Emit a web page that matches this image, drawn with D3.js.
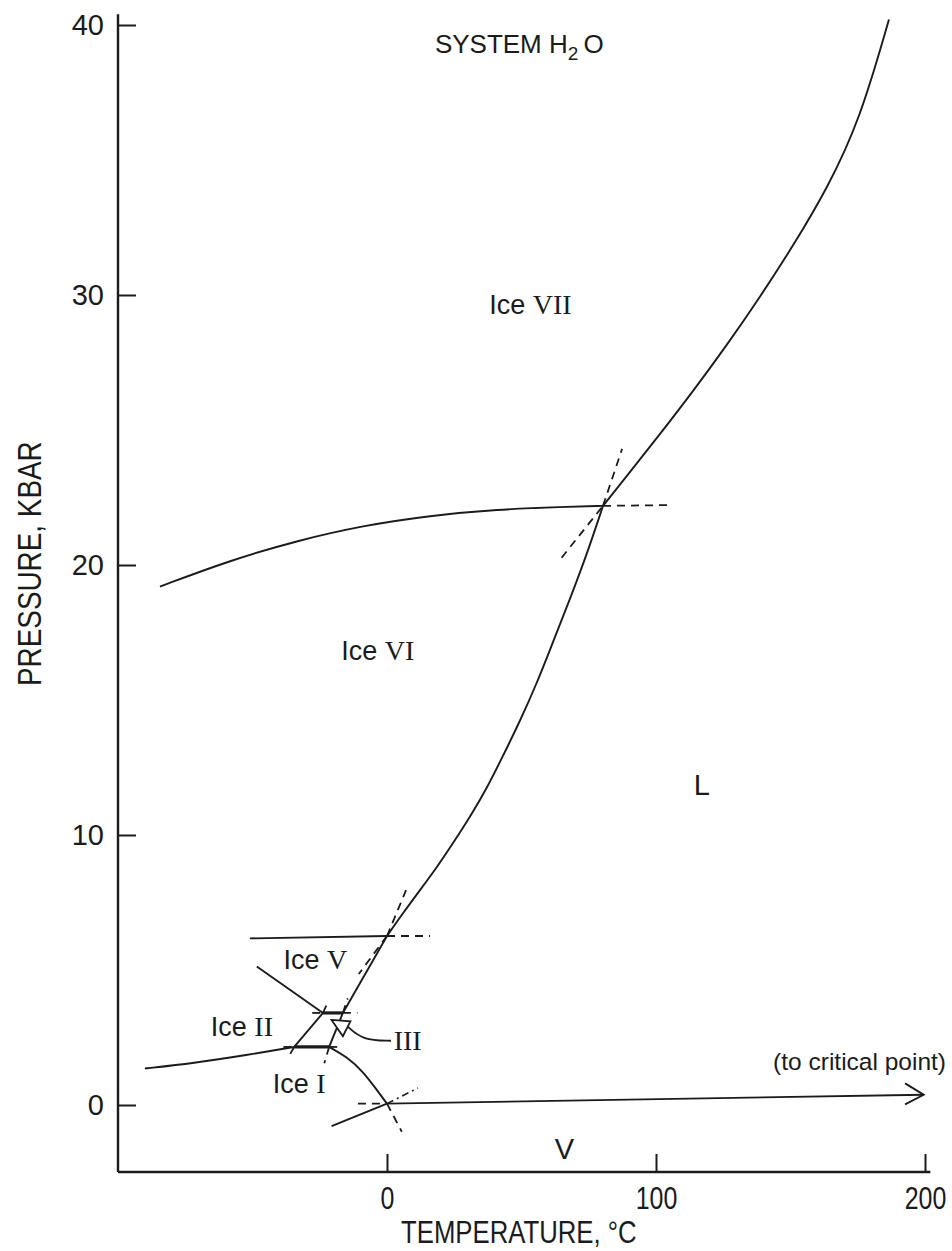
<!DOCTYPE html>
<html><head><meta charset="utf-8">
<script src="https://cdn.jsdelivr.net/npm/d3@7"></script>
<style>
body{margin:0;background:#fff;}
svg{display:block;}
.sans{font-family:"Liberation Sans",Arial,Helvetica,sans-serif;}
.serif{font-family:"Liberation Serif","Times New Roman",serif;}
</style>
</head><body>
<svg id="c" width="952" height="1251"></svg>
<script>
// ---------- data (temperature °C, pressure kbar) ----------
const xTicks = [0, 100, 200];
const yTicks = [0, 10, 20, 30, 40];
const xTickLabels = ["0", "100", "200"];
const yTickLabels = ["0", "10", "20", "30", "40"];

const curveVI_VII = [[-84.4,19.2],[-58.4,20.17],[-33.5,20.9],[-8.9,21.46],[16,21.83],[40.9,22.06],[65.4,22.15],[80.3,22.19]];
const curveVII_L  = [[80.3,22.19],[89.2,23.3],[101.5,24.85],[113.8,26.44],[126.4,28.15],[138.7,29.93],[150.9,31.81],[163.6,33.93],[175.8,36.48],[186.6,40.2]];
const curveVI_L   = [[0,6.26],[5.95,7.11],[12.27,7.96],[18.59,8.81],[24.54,9.7],[30.86,10.67],[37.17,11.74],[43.12,12.93],[49.44,14.22],[55.76,15.63],[61.71,17.15],[68.03,18.74],[74.35,20.41],[80.3,22.19]];
const curveV_VI   = [[-51,6.17],[0,6.26]];
const curveV_L    = [[-16.4,3.41],[0,6.26]];
const curveII_V   = [[-48.4,5.13],[-23.8,3.41]];
const curveII_III = [[-34.5,2.15],[-23.8,3.41]];
const curveIII_L  = [[-21.5,2.15],[-16.4,3.41]];
const curveI_II   = [[-90,1.35],[-72,1.55],[-52,1.85],[-34.5,2.15]];
const curveI_L    = [[-21.5,2.15],[-15,1.79],[-8.8,1.23],[-3.8,0.56],[0,0.05]];
const curveI_V    = [[-20.6,-0.78],[0,0.05]];
const curveL_V    = [[0,0.05],[199.5,0.38]];
const thickIII_V  = [[-23.8,3.41],[-16.4,3.41]];
const thickI_III  = [[-34.5,2.15],[-21.5,2.15]];
const arrowLV     = [[192.6,0.8],[199.5,0.38],[192.6,0.02]];

// metastable extensions (dashed)
const dashedLines = [
  [[80.3,22.19],[106,22.22]],
  [[64.9,20.27],[80.3,22.19]],
  [[80.3,22.19],[87.4,24.3]],
  [[0,6.26],[16,6.26]],
  [[0,6.26],[7.1,7.96]],
  [[0,6.26],[-10.5,4.85]],
  [[-16.4,3.41],[-11,3.41]],
  [[-16.4,3.41],[-14.6,3.95]],
  [[-27.8,3.41],[-23.8,3.41]],
  [[-23.8,3.41],[-21.8,3.85]],
  [[-21.5,2.15],[-17.5,2.15]],
  [[-21.5,2.15],[-23.3,1.55]],
  [[-38.5,2.15],[-34.5,2.15]],
  [[-34.5,2.15],[-36.8,1.75]],
  [[-10.8,0.05],[0,0.05]],
  [[0,0.05],[5.5,-0.99]]
];
const dashDotLines = [
  [[0,0.05],[11.5,0.63]]
];

// label for ice III with arrow
const arrowIIIcurve = [[1.5,2.38],[-9,2.4],[-14.6,2.9]];
const arrowIIIhead  = [[-20.6,3.15],[-13.6,3.1],[-16.4,2.55]];

// region labels: [prefix, roman numeral, T, P]
const regionLabels = [
  ["Ice ", "VII", 38, 29.3],
  ["Ice ", "VI", -17, 16.5],
  ["Ice ", "V", -38.5, 5.05],
  ["Ice ", "II", -65.5, 2.55],
  ["Ice ", "I", -42.5, 0.45],
  ["", "III", 2.5, 2.05]
];
const plainLabels = [
  ["L", 117, 11.5],
  ["V", 66, -2.0]
];

// ---------- drawing ----------
const svg = d3.select("#c");
const x = d3.scaleLinear().domain([-100, 200]).range([118, 925]);
const y = d3.scaleLinear().domain([0, 40]).range([1105, 25]);
const smooth = d3.line().x(d => x(d[0])).y(d => y(d[1])).curve(d3.curveBasis);
const straight = d3.line().x(d => x(d[0])).y(d => y(d[1]));
const ink = "#1b1b1b";
const squeeze = 0.78;

// axes
const gx = svg.append("g").attr("transform", `translate(0,${y(-2.48)})`)
  .call(d3.axisBottom(x).tickValues(xTicks).tickFormat((d,i)=>xTickLabels[i])
        .tickSizeInner(-18).tickSizeOuter(0).tickPadding(14));
gx.select(".domain").remove();
gx.selectAll("line").attr("stroke", ink).attr("stroke-width", 2);
gx.selectAll("text").attr("class","sans").attr("font-size", 32).attr("fill", ink)
  .attr("transform", `scale(${squeeze},1)`);

const gy = svg.append("g").attr("transform", `translate(${x(-100)},0)`)
  .call(d3.axisLeft(y).tickValues(yTicks).tickFormat((d,i)=>yTickLabels[i])
        .tickSizeInner(-18).tickSizeOuter(0).tickPadding(14));
gy.select(".domain").remove();
gy.selectAll("line").attr("stroke", ink).attr("stroke-width", 2);
gy.selectAll("text").attr("class","sans").attr("font-size", 29).attr("fill", ink);

svg.append("line").attr("x1", x(-100)).attr("x2", x(202)).attr("y1", y(-2.48)).attr("y2", y(-2.48))
  .attr("stroke", ink).attr("stroke-width", 2.4);
svg.append("line").attr("x1", x(-100)).attr("x2", x(-100)).attr("y1", y(-2.48)).attr("y2", y(40.4))
  .attr("stroke", ink).attr("stroke-width", 2.4);

// axis titles
svg.append("text").attr("class","sans")
  .attr("transform", `translate(${x(49)},1243) scale(0.83,1)`)
  .attr("text-anchor","middle").attr("font-size", 31).attr("fill", ink).text("TEMPERATURE, °C");
svg.append("text").attr("class","sans")
  .attr("transform", `translate(41,${y(20.05)}) rotate(-90) scale(0.82,1)`)
  .attr("text-anchor","middle").attr("font-size", 34).attr("fill", ink).text("PRESSURE, KBAR");

// title
const t = svg.append("text").attr("class","sans").attr("x", x(17.8)).attr("y", y(38.95))
  .attr("font-size", 26).attr("fill", ink);
t.append("tspan").text("SYSTEM H");
t.append("tspan").attr("font-size", 19).attr("dy", 7).text("2");
t.append("tspan").attr("dy", -7).attr("dx", 5).text("O");

// solid curves
const solid = [curveVI_VII, curveVII_L, curveVI_L, curveV_VI, curveV_L, curveII_V, curveII_III,
               curveIII_L, curveI_II, curveI_L, curveI_V, curveL_V];
svg.append("g").selectAll("path").data(solid).join("path")
  .attr("d", smooth).attr("fill","none").attr("stroke", ink).attr("stroke-width", 1.9);

svg.append("g").selectAll("path").data([thickIII_V, thickI_III]).join("path")
  .attr("d", straight).attr("fill","none").attr("stroke", ink).attr("stroke-width", 3.2);

svg.append("path").attr("d", straight(arrowLV)).attr("fill","none").attr("stroke", ink).attr("stroke-width", 1.9);

svg.append("g").selectAll("path").data(dashedLines).join("path")
  .attr("d", straight).attr("fill","none").attr("stroke", ink).attr("stroke-width", 1.8)
  .attr("stroke-dasharray", "8,6");
svg.append("g").selectAll("path").data(dashDotLines).join("path")
  .attr("d", straight).attr("fill","none").attr("stroke", ink).attr("stroke-width", 1.6)
  .attr("stroke-dasharray", "7,4,2,4");

// arrow to III field
svg.append("path").attr("d", smooth(arrowIIIcurve))
  .attr("fill","none").attr("stroke", ink).attr("stroke-width", 1.8);
svg.append("path").attr("d", straight(arrowIIIhead) + "Z").attr("fill","#fff").attr("stroke", ink).attr("stroke-width", 1.8);

// region labels
regionLabels.forEach(([pre, rom, T, P]) => {
  const tx = svg.append("text").attr("x", x(T)).attr("y", y(P)).attr("font-size", 27).attr("fill", ink);
  if (pre) tx.append("tspan").attr("class","sans").text(pre);
  tx.append("tspan").attr("class","serif").attr("font-size", 28).text(rom);
});
plainLabels.forEach(([s, T, P]) => {
  svg.append("text").attr("class","sans").attr("x", x(T)).attr("y", y(P))
    .attr("font-size", 29).attr("fill", ink).attr("text-anchor","middle").text(s);
});
svg.append("text").attr("class","sans").attr("x", 946).attr("y", 1070).attr("text-anchor","end")
  .attr("font-size", 24.5).attr("fill", ink).text("(to critical point)");
</script>
</body></html>
